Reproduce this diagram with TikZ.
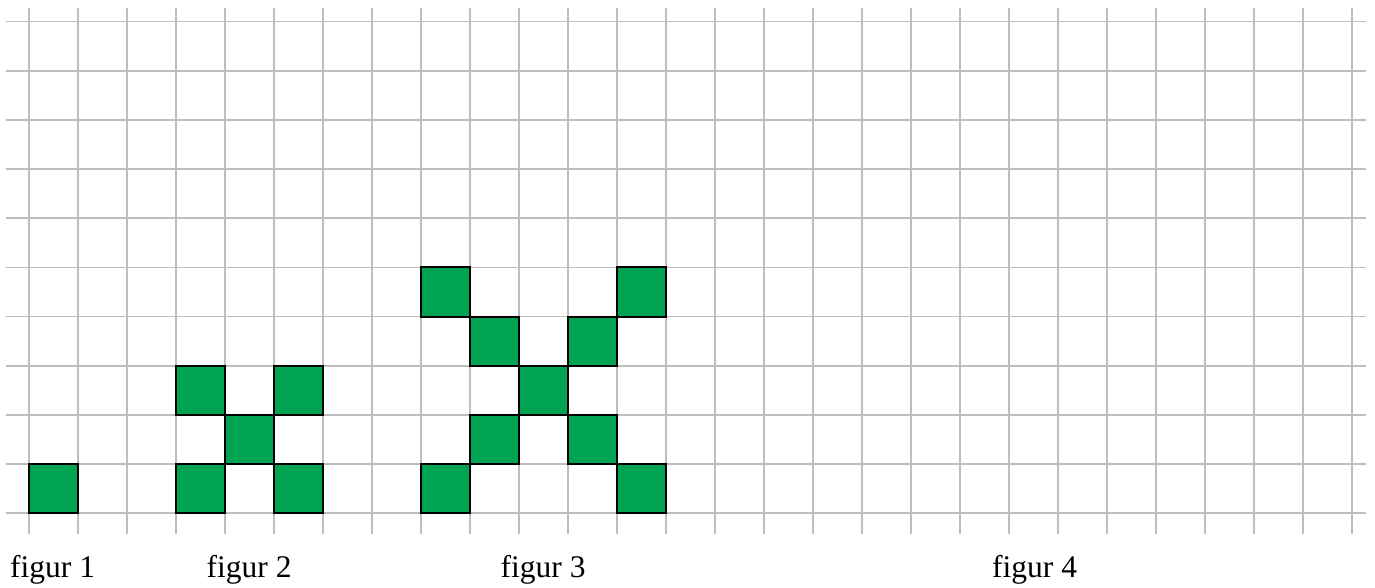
\documentclass[tikz,border=0pt]{standalone}
\usepackage{fontspec}
\setmainfont{Liberation Serif}
\definecolor{sqgreen}{RGB}{0,163,82}
\definecolor{gridgray}{RGB}{190,190,190}
\tikzset{
  gridline/.style={draw=gridgray, line width=1.8pt},
  cell/.style={fill=sqgreen, draw=black, line width=2pt},
  caption/.style={anchor=base west, inner sep=0pt, font=\fontsize{31.5}{38}\selectfont}
}
\begin{document}
\begin{tikzpicture}[x=1pt,y=-1pt]
\useasboundingbox (0,0) rectangle (1375,588);
% grid
\foreach \k in {0,...,27} {
  \draw[gridline] (29+49*\k,8) -- (29+49*\k,534);
}
\foreach \j in {0,...,10} {
  \draw[gridline] (5.5,21.5+49.18*\j) -- (1366,21.5+49.18*\j);
}
% green cells (column, row from bottom)
\foreach \c/\r in {0/0, 3/0,5/0,4/1,3/2,5/2, 8/0,12/0,9/1,11/1,10/2,9/3,11/3,8/4,12/4} {
  \draw[cell] (29+49*\c,513.3-49.18*\r) rectangle (78+49*\c,513.3-49.18*\r-49.18);
}
% captions
\node[caption] (f1) at (10,577) {figur 1};
\node[caption] (f2) at (206.5,577) {figur 2};
\node[caption] (f3) at (500.5,577) {figur 3};
\node[caption] (f4) at (992,577) {figur 4};
\end{tikzpicture}
\end{document}
